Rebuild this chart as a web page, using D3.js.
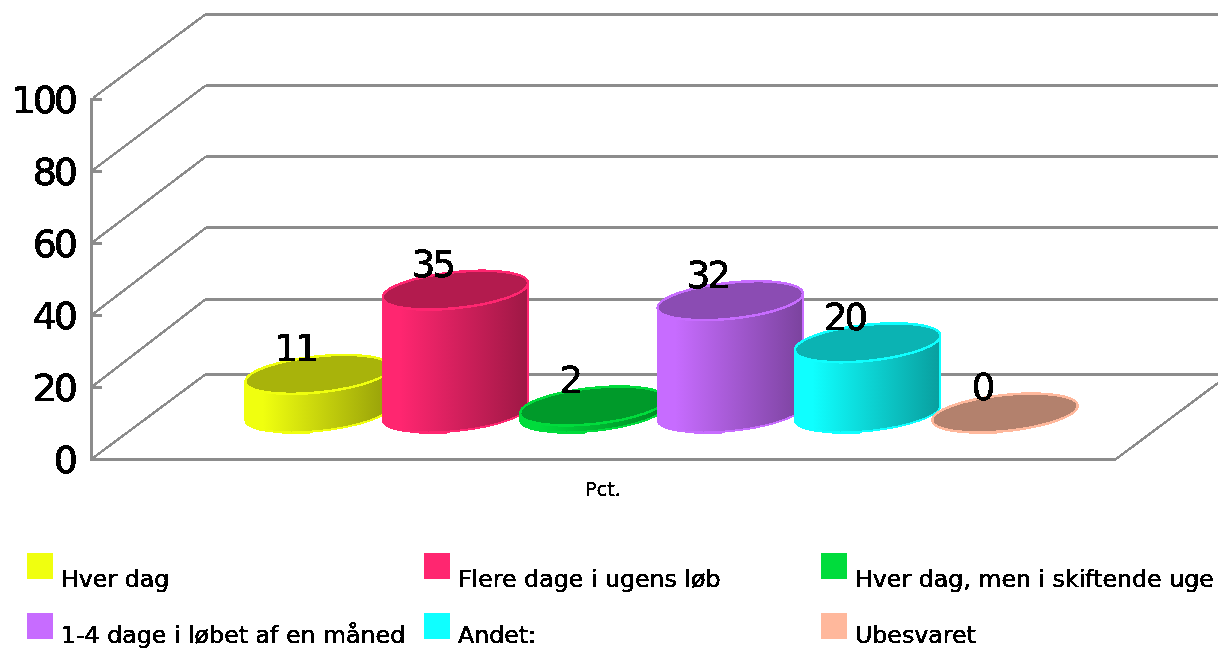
<!DOCTYPE html>
<html><head><meta charset="utf-8">
<style>html,body{margin:0;padding:0;background:#fff;overflow:hidden}svg{display:block}</style>
<script src="https://cdn.jsdelivr.net/npm/d3@7"></script></head>
<body><div id="c"></div>
<script>
const categories = ["Hver dag","Flere dage i ugens løb","Hver dag, men i skiftende uge","1-4 dage i løbet af en måned","Andet:","Ubesvaret"];
const values = [11,35,2,32,20,0];
const colors = ["#f0ff0f","#ff2670","#00dc3c","#c76cff","#0fffff","#ffb89c"];
const yTicks = [0,20,40,60,80,100];
const axisTitle = "Pct.";

const W=1218,H=649;
const svg=d3.select("#c").append("svg").attr("width",W).attr("height",H);
const defs=svg.append("defs");
const f=defs.append("filter").attr("id","px").attr("x","-5%").attr("y","-5%").attr("width","110%").attr("height","110%");
f.append("feComponentTransfer").append("feFuncA").attr("type","discrete").attr("tableValues","0 1 1");

const yFront=d3.scaleLinear().domain([0,100]).range([459,99]);
const yBack=d3.scaleLinear().domain([0,20,100]).range([374,299,14]);
const yBar=d3.scaleLinear().domain([0,100]).range([413,62]);
const x=d3.scalePoint().domain(categories).range([318,1005]);

const grid=svg.append("g").attr("stroke","#8c8c8c").attr("stroke-width",3).attr("fill","none").attr("shape-rendering","crispEdges");
yTicks.forEach(t=>{
  grid.append("line").attr("x1",93).attr("x2",206).attr("y1",yFront(t)-1).attr("y2",yBack(t)).attr("stroke-width",2.5);
  grid.append("line").attr("x1",206).attr("x2",W).attr("y1",yBack(t)).attr("y2",yBack(t));
  grid.append("line").attr("x1",91).attr("x2",102).attr("y1",yFront(t)).attr("y2",yFront(t));
});
grid.append("line").attr("x1",91).attr("x2",91).attr("y1",yFront(100)-1).attr("y2",yFront(0)+2);
grid.append("line").attr("x1",91).attr("x2",1116).attr("y1",yFront(0)).attr("y2",yFront(0));
grid.append("line").attr("x1",1116).attr("x2",W).attr("y1",yFront(0)).attr("y2",yBack(0)+9).attr("stroke-width",2.5);

const yAxis=d3.axisLeft(yFront).tickValues(yTicks).tickSize(0).tickPadding(0);
const ya=svg.append("g").attr("transform","translate(75,0)").call(yAxis);
ya.select(".domain").remove();
ya.selectAll("text").attr("font-family","'DejaVu Sans'").attr("font-size",38).attr("letter-spacing",-3).attr("fill","#000").attr("stroke","#000").attr("stroke-width",0.5).attr("dy","0.36em").attr("filter","url(#px)");

const rx=73,ry=18,tilt=6*Math.PI/180;
const cs=Math.cos(tilt)*rx,sn=Math.sin(tilt)*rx;
categories.forEach((c,i)=>{
  const col=d3.rgb(colors[i]);
  const g=defs.append("linearGradient").attr("id","g"+i);
  g.append("stop").attr("offset","0").attr("stop-color",col.formatHex());
  g.append("stop").attr("offset","0.12").attr("stop-color",col.formatHex());
  g.append("stop").attr("offset","1").attr("stop-color",d3.rgb(col.r*.62,col.g*.62,col.b*.62).formatHex());
});
const bars=svg.append("g").attr("shape-rendering","crispEdges");
categories.forEach((c,i)=>{
  const cx=x(c),yb=yBar(0),yt=yBar(values[i]);
  const col=d3.rgb(colors[i]);
  const dark=d3.rgb(col.r*.7,col.g*.7,col.b*.7).formatHex();
  const b=bars.append("g");
  b.append("rect").attr("x",cx-36).attr("y",yb+12).attr("width",28).attr("height",9).attr("fill",colors[i]);
  if(values[i]>0){
    const d=`M${cx-cs},${yt+sn}L${cx-cs},${yb+sn}A${rx},${ry} -6 0 0 ${cx+cs},${yb-sn}L${cx+cs},${yt-sn}A${rx},${ry} -6 0 1 ${cx-cs},${yt+sn}Z`;
    b.append("path").attr("d",d).attr("fill",`url(#g${i})`).attr("stroke",colors[i]).attr("stroke-width",2);
  }
  b.append("ellipse").attr("cx",cx).attr("cy",yt).attr("rx",rx).attr("ry",ry)
    .attr("transform",`rotate(-6 ${cx} ${yt})`).attr("fill",dark).attr("stroke",colors[i]).attr("stroke-width",2.5);
});
const labels=svg.append("g").attr("font-family","'DejaVu Sans'").attr("font-size",37).attr("letter-spacing",-3).attr("fill","#000").attr("stroke","#000").attr("stroke-width",0.4).attr("text-anchor","middle").attr("filter","url(#px)");
categories.forEach((c,i)=>{
  labels.append("text").attr("x",x(c)-23).attr("y",yBar(values[i])-13).text(values[i]);
});
svg.append("text").attr("x",603).attr("y",496).attr("text-anchor","middle").attr("font-family","'DejaVu Sans'").attr("font-size",19).attr("stroke","#000").attr("stroke-width",0.25).attr("filter","url(#px)").text(axisTitle);

const legX=d3.scalePoint().domain([0,1,2]).range([27,821]);
const legY=d3.scalePoint().domain([0,1]).range([553,613]);
const legTextY=d3.scalePoint().domain([0,1]).range([587,643]);
const leg=svg.append("g");
categories.forEach((c,i)=>{
  const cc=i%3,r=Math.floor(i/3);
  leg.append("rect").attr("x",legX(cc)).attr("y",legY(r)).attr("width",26).attr("height",26).attr("fill",colors[i]);
  leg.append("text").attr("x",legX(cc)+34).attr("y",legTextY(r)).attr("font-family","'DejaVu Sans'").attr("font-size",23.7).attr("fill","#000").attr("stroke","#000").attr("stroke-width",0.3).attr("filter","url(#px)").text(c);
});
</script></body></html>
